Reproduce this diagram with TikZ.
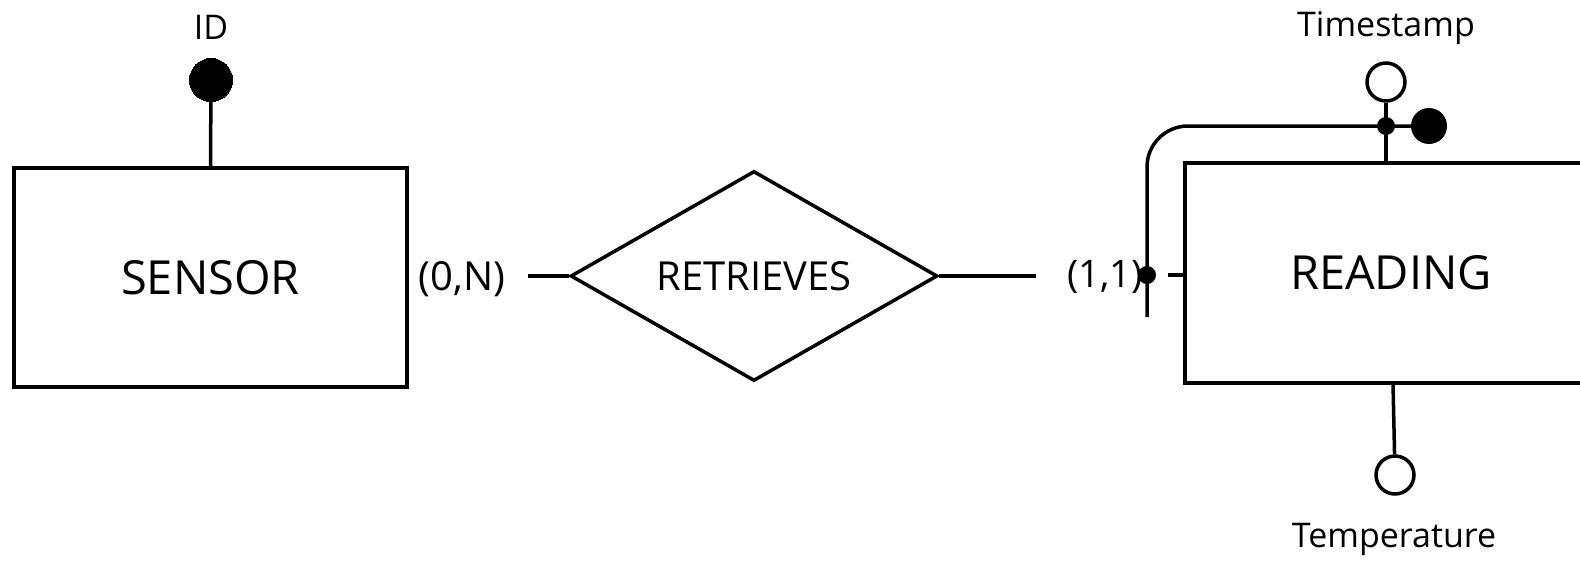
\documentclass[tikz,border=0pt]{standalone}
\usepackage{fontspec}
\setmainfont{Open Sans}
\usetikzlibrary{shapes.geometric}
\begin{document}
\begin{tikzpicture}[x=1pt,y=-1pt,line width=3.5pt,
  entity/.style={draw,rectangle,inner sep=0pt,font=\fontsize{47}{50}\selectfont},
  relbox/.style={draw,diamond,inner sep=0pt},
  reltext/.style={font=\fontsize{40}{44}\selectfont,inner sep=0pt},
  lbl/.style={inner sep=0pt,font=\fontsize{34}{37}\selectfont},
  card/.style={inner sep=0pt,font=\fontsize{40}{43}\selectfont},
  keyattr/.style={circle,fill=black,draw=black,line width=0pt,minimum size=43pt,inner sep=0pt},
  optattr/.style={circle,draw,fill=white,line width=3.5pt,minimum size=38pt,inner sep=0pt},
  smalldot/.style={circle,fill=black,minimum size=18pt,inner sep=0pt},
  bigdot/.style={circle,fill=black,minimum size=36pt,inner sep=0pt}]
\useasboundingbox (0,0) rectangle (1580,560);
\clip (0,0) rectangle (1580,560);
% entities
\node[entity,minimum width=393pt,minimum height=219pt] (sensor) at (210.5,277.5) {SENSOR};
\node[entity,minimum width=412pt,minimum height=220pt] (reading) at (1391,273) {READING};
% relationship
\node[relbox,minimum width=367pt,minimum height=210pt,
  label={[reltext]center:RETRIEVES}] (rel) at (754,276) {};
% ID
\node[keyattr] (id) at (211,80) {};
\node[lbl] (idl) at (211,27) {ID};
\draw (sensor.north) -- (id);
% cardinalities
\node[card] (c0n) at (462,279) {(0,N)};
\node[card,font=\fontsize{38}{41}\selectfont] (c11) at (1105,277) {(1,1)};
\coordinate (la) at (528,276);
\coordinate (ra) at (1036,276);
\draw (la) -- (rel.west);
\draw (rel.east) -- (ra);
% identifier line
\node[smalldot] (d1) at (1147,275) {};
\node[smalldot] (d2) at (1386,126) {};
\node[bigdot] (d3) at (1429,126) {};
\coordinate (vb) at (1147,317);
\draw[rounded corners=41pt] (vb) -- (d1.center) -- (1147,126) -- (d2.center) -- (d3);
\coordinate (tk) at (1168,275);
\draw (tk) -- (reading.west |- tk);
% Timestamp
\node[optattr] (ts) at (1386,82) {};
\node[lbl] (tsl) at (1386,28) {Timestamp};
\draw (reading.north -| ts) -- (d2.center) -- (ts);
% Temperature
\node[optattr] (tp) at (1395,475) {};
\node[lbl] (tpl) at (1394,539) {Temperature};
\coordinate (tb) at (1393,383);
\draw (tb) -- (tp);
\end{tikzpicture}
\end{document}
